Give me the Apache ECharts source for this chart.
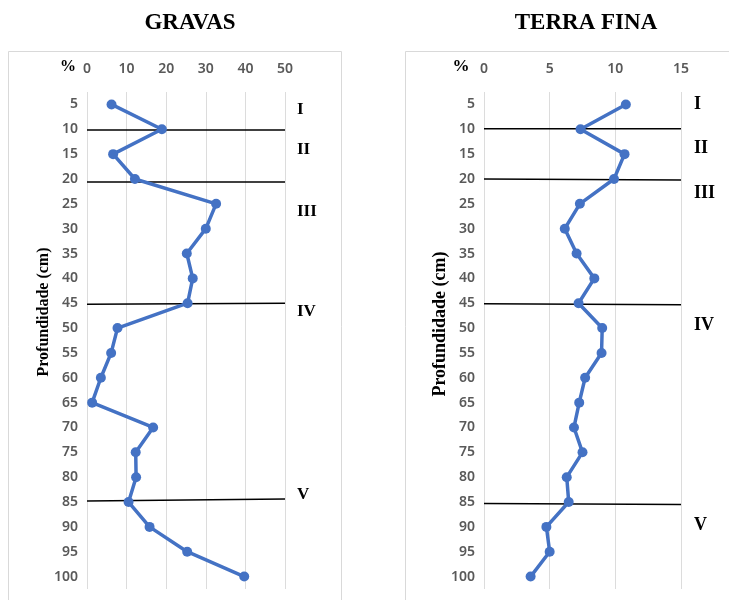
<!DOCTYPE html>
<html><head><meta charset="utf-8">
<script src="https://cdn.jsdelivr.net/npm/echarts@6/dist/echarts.min.js"></script>
<style>html,body{margin:0;padding:0;background:#fff}#c{width:729px;height:600px}</style>
</head><body><div id="c"></div>
<script>
const depths = ['5','10','15','20','25','30','35','40','45','50','55','60','65','70','75','80','85','90','95','100'];
const gravas = [6.2,18.9,6.6,12.1,32.6,30.0,25.2,26.7,25.4,7.7,6.1,3.5,1.3,16.7,12.3,12.4,10.5,15.8,25.3,39.7];
const terraFina = [10.8,7.35,10.7,9.9,7.3,6.15,7.05,8.4,7.2,9.0,8.95,7.7,7.25,6.85,7.5,6.3,6.45,4.75,5.0,3.55];
// horizon boundaries: [depth at left end, depth at right end]
const sepGravas = [[10.15,10.15],[20.6,20.6],[45.2,45.0],[84.8,84.4]];
const sepTerra = [[9.9,9.9],[20.0,20.2],[45.1,45.3],[85.3,85.5]];
const horizons = ['I','II','III','IV','V'];
const titles = ['GRAVAS','TERRA FINA'];
const yName = 'Profundidade (cm)';

const blue = '#4472C4';
const tickFont = {fontFamily:'Noto Sans', fontWeight:600, fontSize:14, color:'#595959'};
const serif = 'Liberation Serif, Times New Roman, serif';

function xAx(gi, max, interval){
  return {type:'value', gridIndex:gi, position:'top', min:0, max:max, interval:interval,
    axisLine:{show:false}, axisTick:{show:false},
    axisLabel:Object.assign({margin:16}, tickFont),
    splitLine:{show:true, lineStyle:{color:'#dcdcdc', width:1}}};
}
function yCat(gi){
  return {type:'category', gridIndex:gi, data:depths, inverse:true, boundaryGap:true,
    axisLine:{show:false}, axisTick:{show:false},
    axisLabel:Object.assign({margin:9}, tickFont), splitLine:{show:false}};
}
function yVal(gi){
  return {type:'value', gridIndex:gi, min:2.5, max:102.5, inverse:true, show:false};
}
function sepSeries(seps, xi, yi, xmax){
  return seps.map(s => ({type:'line', xAxisIndex:xi, yAxisIndex:yi, data:[[0,s[0]],[xmax,s[1]]],
    symbol:'none', silent:true, lineStyle:{color:'#000', width:1.5}, z:1}));
}
const series = [
  {type:'line', xAxisIndex:0, yAxisIndex:0, data:gravas.map((v,i)=>[v,depths[i]]),
   symbol:'circle', symbolSize:10, itemStyle:{color:blue}, lineStyle:{color:blue, width:3.5}, z:5},
  {type:'line', xAxisIndex:1, yAxisIndex:2, data:terraFina.map((v,i)=>[v,depths[i]]),
   symbol:'circle', symbolSize:10, itemStyle:{color:blue}, lineStyle:{color:blue, width:3.5}, z:5}
].concat(sepSeries(sepGravas,0,1,50), sepSeries(sepTerra,1,3,15));

function txt(x,y,t,size,extra){
  return Object.assign({type:'text', x:x, y:y, style:{text:t, font:'bold '+size+'px '+serif, fill:'#000', textAlign:'left', textVerticalAlign:'middle'}}, extra||{});
}
const lx = [297, 694];
const ly = [[110,150,212,312,495],[104,148,193,325,525]];
const graphic = [
  {type:'rect', shape:{x:8.5,y:51.5,width:333,height:560}, style:{fill:'none', stroke:'#d9d9d9', lineWidth:1}, z:-1},
  {type:'rect', shape:{x:405.5,y:51.5,width:340,height:560}, style:{fill:'none', stroke:'#d9d9d9', lineWidth:1}, z:-1},
  {type:'text', x:190, y:23, style:{text:titles[0], font:'bold 23px '+serif, fill:'#000', textAlign:'center', textVerticalAlign:'middle'}},
  {type:'text', x:586, y:23, style:{text:titles[1], font:'bold 23px '+serif, fill:'#000', textAlign:'center', textVerticalAlign:'middle'}},
  {type:'text', x:68, y:67, style:{text:'%', font:'bold 16px '+serif, fill:'#000', textAlign:'center', textVerticalAlign:'middle'}},
  {type:'text', x:461, y:67, style:{text:'%', font:'bold 17px '+serif, fill:'#000', textAlign:'center', textVerticalAlign:'middle'}},
  {type:'text', x:44, y:312, rotation:Math.PI/2, style:{text:yName, font:'bold 16px '+serif, fill:'#000', textAlign:'center', textVerticalAlign:'middle'}},
  {type:'text', x:440, y:324, rotation:Math.PI/2, style:{text:yName, font:'bold 18px '+serif, fill:'#000', textAlign:'center', textVerticalAlign:'middle'}}
];
horizons.forEach((h,i)=>{ graphic.push(txt(lx[0], ly[0][i], h, 17)); graphic.push(txt(lx[1], ly[1][i], h, 18)); });

const chart = echarts.init(document.getElementById('c'), null, {renderer:'canvas'});
chart.setOption({
  animation:false,
  backgroundColor:'#fff',
  grid:[{left:87, top:92, width:198, height:497}, {left:484, top:92, width:197, height:497}],
  xAxis:[xAx(0,50,10), xAx(1,15,5)],
  yAxis:[yCat(0), yVal(0), yCat(1), yVal(1)],
  series:series,
  graphic:graphic
});
</script></body></html>
